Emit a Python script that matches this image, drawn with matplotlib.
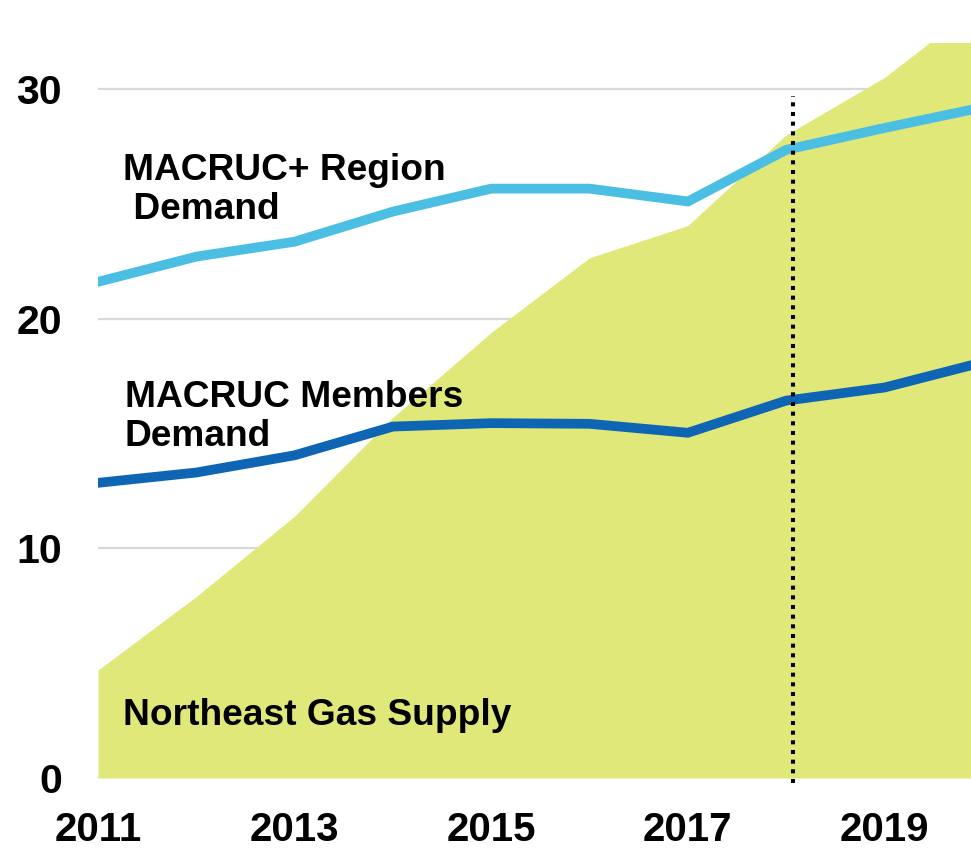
import matplotlib
matplotlib.use("Agg")
import matplotlib.pyplot as plt

years = [2011, 2012, 2013, 2014, 2015, 2016, 2017, 2018, 2019, 2020]
supply = [4.7, 7.9, 11.4, 15.7, 19.4, 22.65, 24.05, 28.0, 30.5, 33.8]
region_demand = [21.6, 22.7, 23.35, 24.66, 25.66, 25.66, 25.1, 27.35, 28.3, 29.2]
members_demand = [12.85, 13.3, 14.05, 15.3, 15.45, 15.42, 15.03, 16.43, 17.0, 18.1]
xticks = [2011, 2013, 2015, 2017, 2019]
yticks = [0, 10, 20, 30]
divider_year = 2018.07

plt.rcParams['font.family'] = ['Liberation Sans', 'DejaVu Sans']

fig = plt.figure(figsize=(9.71, 8.5), dpi=100)
ax = fig.add_axes([98 / 971, 72 / 850, 873 / 971, 735 / 850])

ax.set_xlim(2011, 2019.88)
ax.set_ylim(0, 32.0)

for s in ax.spines.values():
    s.set_visible(False)

ax.set_yticks(yticks)
ax.set_xticks(xticks)
ax.yaxis.grid(True, color='#D9D9D9', linewidth=1.6, zorder=0)
ax.set_axisbelow(True)
ax.tick_params(axis='both', length=0)
ax.tick_params(axis='y', pad=26, labelsize=29.5)
ax.tick_params(axis='x', pad=24, labelsize=29)
for lab in ax.get_xticklabels() + ax.get_yticklabels():
    lab.set_fontweight('bold')

ax.fill_between(years, supply, 0, color='#DFE878', linewidth=0, zorder=2)
ax.plot(years, region_demand, color='#4BBEE3', linewidth=7, zorder=3,
        solid_joinstyle='miter')
ax.plot(years, members_demand, color='#0E65B4', linewidth=7, zorder=3,
        solid_joinstyle='miter')

ax.plot([divider_year, divider_year], [-0.2, 29.7], color='black',
        linewidth=2.9, linestyle=(0, (1, 1.4)), dash_capstyle='butt',
        clip_on=False, zorder=4)

ax.text(2011.25, 27.23, "MACRUC+ Region\n Demand", fontsize=26.7,
        fontweight='bold', ha='left', va='top', linespacing=1.17, zorder=5)
ax.text(2011.27, 17.34, "MACRUC Members\nDemand", fontsize=26.7,
        fontweight='bold', ha='left', va='top', linespacing=1.17, zorder=5)
ax.text(2011.25, 3.49, "Northeast Gas Supply", fontsize=26.7,
        fontweight='bold', ha='left', va='top', zorder=5)

fig.savefig("out.png", dpi=100)
